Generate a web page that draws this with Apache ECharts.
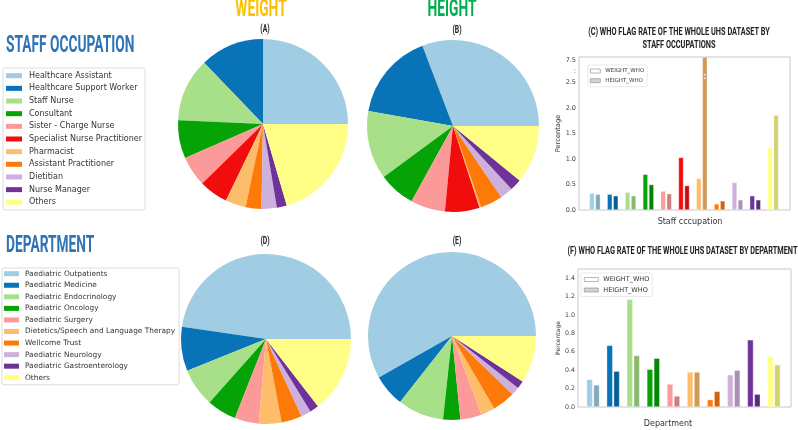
<!DOCTYPE html>
<html><head><meta charset="utf-8">
<script src="https://cdn.jsdelivr.net/npm/echarts@6/dist/echarts.min.js"></script>
<style>html,body{margin:0;padding:0;background:#fff}#c{width:798px;height:430px}</style>
</head><body><div id="c"></div>
<script>
// ---------- data ----------
const staffCategories = ['Healthcare Assistant','Healthcare Support Worker','Staff Nurse','Consultant','Sister - Charge Nurse','Specialist Nurse Practitioner','Pharmacist','Assistant Practitioner','Dietitian','Nurse Manager','Others'];
const weightStaffShare = [25.0,12.2,12.1,7.3,5.75,5.5,3.9,3.0,2.9,1.9,20.5];
const heightStaffShare = [30.8,16.4,12.9,6.9,6.5,6.5,0.3,4.2,2.4,2.2,10.9];
const deptCategories = ['Paediatric Outpatients','Paediatric Medicine','Paediatric Endocrinology','Paediatric Oncology','Paediatric Surgery','Dietetics/Speech and Language Therapy','Wellcome Trust','Paediatric Neurology','Paediatric Gastroenterology','Others'];
const weightDeptShare = [47.6,8.4,7.3,5.6,4.6,4.3,3.9,1.9,1.7,14.5];
const heightDeptShare = [58.2,6.2,8.9,3.3,4.1,2.7,4.4,1.6,1.5,9.1];
const nWeightStaff = 'N=166,739';
const nHeightStaff = 'N=125,778';
const nWeightDept = 'N=127007';
const nHeightDept = 'N=99265';
const staffWeightWho = [0.33,0.31,0.35,0.70,0.37,1.03,0.62,0.12,0.54,0.28,1.23];
const staffHeightWho = [0.31,0.28,0.28,0.50,0.32,0.48,7.6,0.18,0.20,0.20,1.86];
const deptWeightWho = [0.30,0.67,1.17,0.41,0.25,0.38,0.08,0.35,0.73,0.55];
const deptHeightWho = [0.24,0.39,0.56,0.53,0.12,0.38,0.17,0.40,0.14,0.46];
const staffTickValues = [0,0.5,1.0,1.5,2.0,2.5];
const staffBreakTopLabel = 7.5;
const deptTickValues = [0,0.2,0.4,0.6,0.8,1.0,1.2,1.4];
const seriesNames = ['WEIGHT_WHO','HEIGHT_WHO'];

// ---------- styles ----------
const C = {lb:'#a0cde4', db:'#0873b6', lg:'#a8e08a', g:'#05a305', pk:'#fc9a9a', rd:'#f20d0d', lo:'#fdbd6a', or:'#fe7a08', lv:'#cdb0dc', pu:'#6e3399', ye:'#ffff88'};
const staffColors = [C.lb,C.db,C.lg,C.g,C.pk,C.rd,C.lo,C.or,C.lv,C.pu,C.ye];
const deptColors = [C.lb,C.db,C.lg,C.g,C.pk,C.lo,C.or,C.lv,C.pu,C.ye];
function shade(hex, f){
  const n = parseInt(hex.slice(1),16);
  const r = Math.round(((n>>16)&255)*f), g = Math.round(((n>>8)&255)*f), b = Math.round((n&255)*f);
  return 'rgb('+r+','+g+','+b+')';
}
// broken axis mapping for chart C: values above the break are drawn in the top band
const BREAK_MARK = 2.725, BREAK_LABEL_POS = 2.935, C_MAX = 3.0;
function brk(v){ return v <= 2.6 ? v : Math.min(C_MAX, BREAK_LABEL_POS + (v - staffBreakTopLabel)); }

const cond = 'Roboto';
function gtext(x, y, text, size, color, sx, align){
  return {type:'text', x:x, y:y, scaleX:sx, scaleY:1, silent:true,
    style:{text:text, fill:color, font:'bold '+size+'px '+cond,
      align:align||'center', verticalAlign:'middle', textAlign:align||'center', textVerticalAlign:'middle'}};
}

function pie(center, r, names, vals, colors){
  return {type:'pie', center:center, radius:r, startAngle:0, clockwise:false, silent:true,
    label:{show:false}, labelLine:{show:false}, emphasis:{disabled:true},
    data: names.map((n,i)=>({name:n, value:vals[i], itemStyle:{color:colors[i]}}))};
}

const option = {
  animation:false,
  backgroundColor:'#fff',
  grid:[
    {left:586, top:57, width:196, height:153},
    {left:579, top:57, width:211, height:153, show:true, borderColor:'#c8c8c8', borderWidth:1, backgroundColor:'transparent'},
    {left:583, top:269, width:201, height:138},
    {left:578, top:269, width:213, height:138, show:true, borderColor:'#c8c8c8', borderWidth:1, backgroundColor:'transparent'}
  ],
  xAxis:[
    {gridIndex:0, type:'category', data:staffCategories, boundaryGap:true,
     axisLine:{show:false}, axisTick:{show:false}, axisLabel:{show:false},
     name:'Staff cccupation', nameLocation:'middle', nameGap:8,
     nameTextStyle:{fontFamily:'DejaVu Sans', fontSize:8, color:'#333', verticalAlign:'top', padding:[0,0,0,12]}},
    {gridIndex:1, type:'value', show:false},
    {gridIndex:2, type:'category', data:deptCategories, boundaryGap:true,
     axisLine:{show:false}, axisTick:{show:false}, axisLabel:{show:false},
     name:'Department', nameLocation:'middle', nameGap:13,
     nameTextStyle:{fontFamily:'DejaVu Sans', fontSize:8, color:'#333', verticalAlign:'top', padding:[0,31,0,0]}},
    {gridIndex:3, type:'value', show:false}
  ],
  yAxis:[
    {gridIndex:0, type:'value', min:0, max:C_MAX, offset:7,
     axisLine:{show:false}, axisTick:{show:false}, splitLine:{show:false},
     axisLabel:{fontFamily:'DejaVu Sans', fontSize:6.5, color:'#444', margin:3,
       customValues: staffTickValues.concat([BREAK_MARK, BREAK_LABEL_POS]),
       formatter:function(v){ if (Math.abs(v-BREAK_LABEL_POS)<1e-6) return String(staffBreakTopLabel); if (Math.abs(v-BREAK_MARK)<1e-6) return ':'; return v.toFixed(1);} },
     name:'Percentage', nameLocation:'middle', nameGap:6, nameRotate:90,
     nameTextStyle:{fontFamily:'DejaVu Sans', fontSize:6.7, color:'#333'}},
    {gridIndex:1, type:'value', show:false},
    {gridIndex:2, type:'value', min:0, max:1.5, offset:5,
     axisLine:{show:false}, axisTick:{show:false}, splitLine:{show:false},
     axisLabel:{fontFamily:'DejaVu Sans', fontSize:6.3, color:'#444', margin:3,
       customValues: deptTickValues, formatter:function(v){return v.toFixed(1);} },
     name:'Percentage', nameLocation:'middle', nameGap:8, nameRotate:90,
     nameTextStyle:{fontFamily:'DejaVu Sans', fontSize:6, color:'#333'}},
    {gridIndex:3, type:'value', show:false}
  ],
  legend:[
    {left:3, top:68, orient:'vertical', selectedMode:false, icon:'rect', itemWidth:16, itemHeight:5, itemGap:2.66,
     padding:[2.7,3,2.7,3], backgroundColor:'#fff', borderColor:'#ddd', borderWidth:1, borderRadius:2,
     data: staffCategories, textStyle:{color:'#333', fontSize:8, fontFamily:'DejaVu Sans', lineHeight:10, padding:[0,0,0,2]}},
    {left:2, top:268, orient:'vertical', selectedMode:false, icon:'rect', itemWidth:15, itemHeight:5, itemGap:1.56,
     padding:[0.7,4,2,2], backgroundColor:'#fff', borderColor:'#ddd', borderWidth:1, borderRadius:2,
     data: deptCategories.map(n=>({name:n})), textStyle:{color:'#333', fontSize:7.4, fontFamily:'DejaVu Sans', lineHeight:10, padding:[0,0,0,1]}},
    {left:588, top:65, orient:'vertical', selectedMode:false, itemWidth:10, itemHeight:4, itemGap:3.7,
     padding:[3,3,3,2], backgroundColor:'#fff', borderColor:'#e4e4e4', borderWidth:0.8, borderRadius:2,
     textStyle:{fontFamily:'DejaVu Sans', fontSize:5.5, color:'#333', lineHeight:6},
     data:[{name:seriesNames[0], icon:'rect', itemStyle:{color:'#fff', borderColor:'#888', borderWidth:0.6}},
           {name:seriesNames[1], icon:'rect', itemStyle:{color:'#d4d4d4', borderColor:'#888', borderWidth:0.6}}]},
    {left:581, top:273, orient:'vertical', selectedMode:false, itemWidth:14, itemHeight:4, itemGap:3.5,
     padding:[3,3,3,3], backgroundColor:'#fff', borderColor:'#e4e4e4', borderWidth:0.8, borderRadius:2,
     textStyle:{fontFamily:'DejaVu Sans', fontSize:6.5, color:'#333', lineHeight:6.5},
     data:[{name:seriesNames[0], icon:'rect', itemStyle:{color:'#fff', borderColor:'#888', borderWidth:0.6}},
           {name:seriesNames[1], icon:'rect', itemStyle:{color:'#d4d4d4', borderColor:'#888', borderWidth:0.6}}]}
  ],
  series:[
    pie([263,124], 85, staffCategories, weightStaffShare, staffColors),
    pie([453,126], 86, staffCategories, heightStaffShare, staffColors),
    pie([266,339], 85, deptCategories, weightDeptShare, deptColors),
    pie([452,336], 84, deptCategories, heightDeptShare, deptColors),
    {type:'bar', name:seriesNames[0], xAxisIndex:0, yAxisIndex:0, barWidth:5, barGap:'20%', silent:true,
     data: staffWeightWho.map((v,i)=>({value:brk(v), itemStyle:{color:staffColors[i], borderColor:'rgba(255,255,255,0.7)', borderWidth:0.5}}))},
    {type:'bar', name:seriesNames[1], xAxisIndex:0, yAxisIndex:0, barWidth:5, silent:true,
     data: staffHeightWho.map((v,i)=>{
       const d = {value:brk(v), itemStyle:{color:shade(staffColors[i],0.82), borderColor:'rgba(255,255,255,0.6)', borderWidth:0.6}};
       if (v > 2.6) d.label = {show:true, position:'insideTop', offset:[0,10], formatter:':', color:'#fff', fontWeight:'bold', fontSize:9};
       return d; })},
    {type:'bar', name:seriesNames[0], xAxisIndex:2, yAxisIndex:2, barWidth:6, barGap:'15%', silent:true,
     data: deptWeightWho.map((v,i)=>({value:v, itemStyle:{color:deptColors[i], borderColor:'rgba(255,255,255,0.7)', borderWidth:0.5}}))},
    {type:'bar', name:seriesNames[1], xAxisIndex:2, yAxisIndex:2, barWidth:6, silent:true,
     data: deptHeightWho.map((v,i)=>({value:v, itemStyle:{color:shade(deptColors[i],0.82), borderColor:'rgba(255,255,255,0.6)', borderWidth:0.6}}))}
  ],
  graphic:[
    gtext(6, 46.5, 'STAFF OCCUPATION', 23.5, '#2f75b5', 0.585, 'left'),
    gtext(6, 246.5, 'DEPARTMENT', 23.5, '#2f75b5', 0.585, 'left'),
    gtext(261, 10, 'WEIGHT', 23, '#ffc000', 0.6),
    gtext(452, 10, 'HEIGHT', 23, '#00b050', 0.6),
    gtext(265, 29.5, '(A)', 10.5, '#222', 0.65),
    gtext(457, 30, '(B)', 10.5, '#222', 0.65),
    gtext(265, 241.5, '(D)', 10.5, '#222', 0.65),
    gtext(457, 241.5, '(E)', 10.5, '#222', 0.65),
    gtext(267, 114, nWeightStaff, 15.5, '#fff', 0.66),
    gtext(454, 111, nHeightStaff, 15.5, '#fff', 0.66),
    gtext(267, 326.7, nWeightDept, 15.5, '#fff', 0.66),
    gtext(453, 320.7, nHeightDept, 15.5, '#fff', 0.66),
    gtext(679, 32.3, '(C) WHO FLAG RATE OF THE WHOLE UHS DATASET BY', 10.8, '#222', 0.68),
    gtext(679, 45.8, 'STAFF OCCUPATIONS', 10.8, '#222', 0.68),
    gtext(682.5, 251, '(F) WHO FLAG RATE OF THE WHOLE UHS DATASET BY DEPARTMENT', 10.8, '#222', 0.68)
  ]
};
const chart = echarts.init(document.getElementById('c'), null, {renderer:'canvas'});
chart.setOption(option);
</script></body></html>
